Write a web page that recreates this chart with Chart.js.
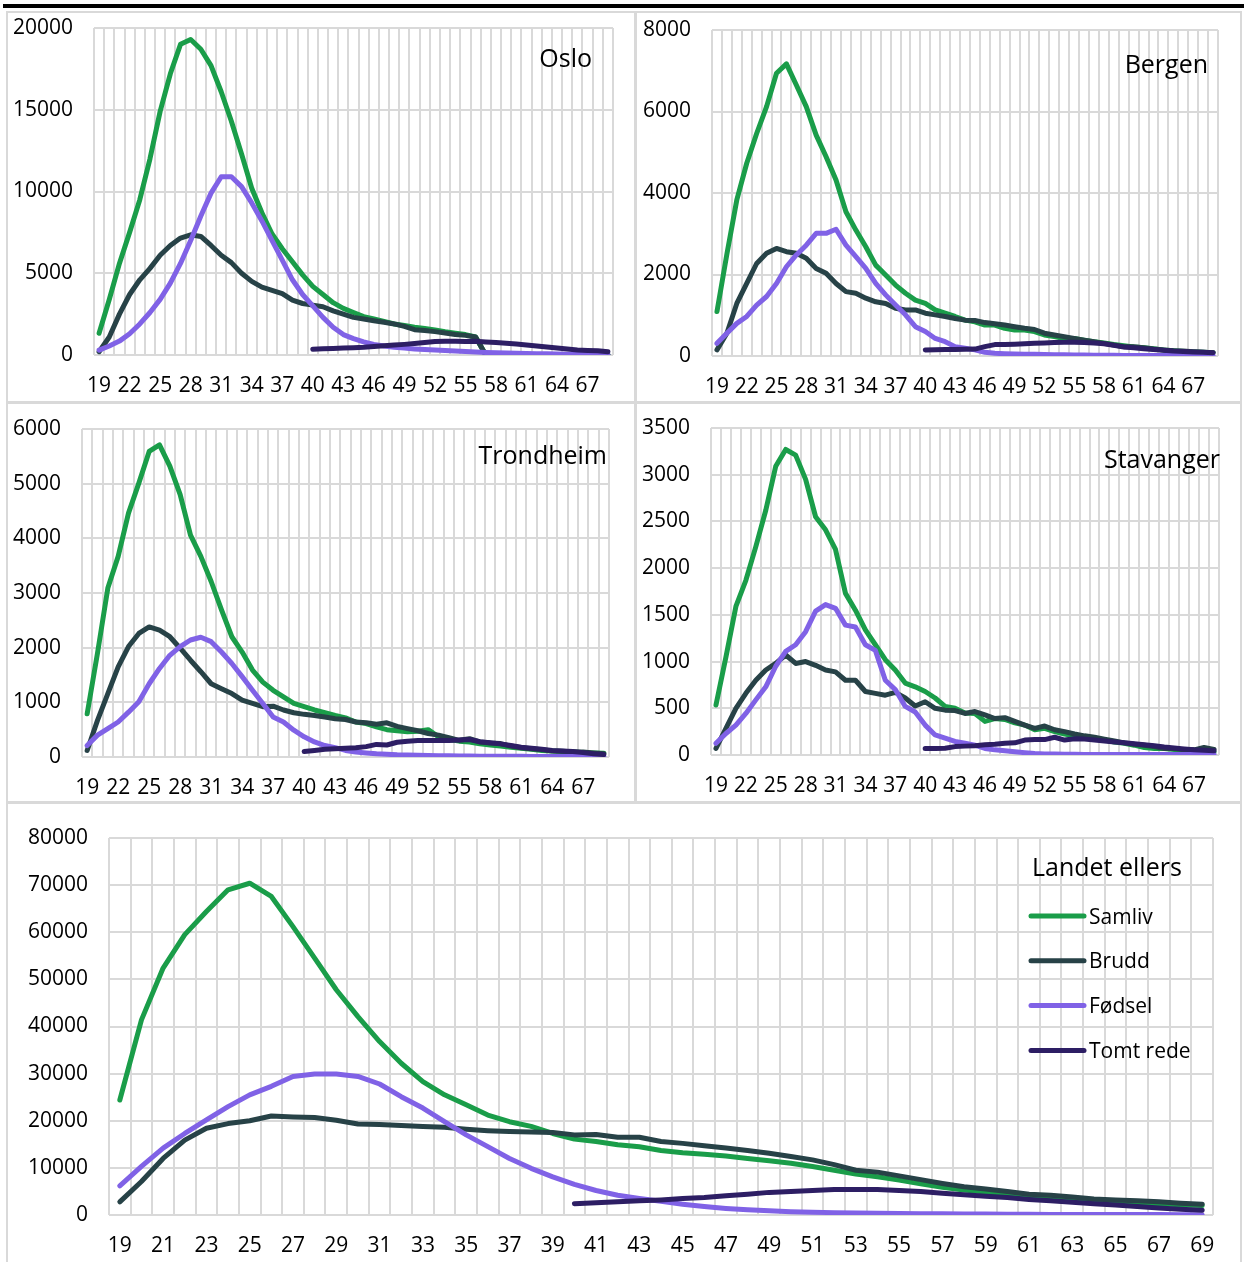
<!DOCTYPE html>
<html>
<head>
<meta charset="utf-8">
<script src="https://cdn.jsdelivr.net/npm/chart.js@4.4.0/dist/chart.umd.min.js"></script>
<style>
  body { margin: 0; background: #fff; }
  #page { position: relative; width: 1244px; height: 1262px; overflow: hidden; background: #fff; }
  canvas { position: absolute; }
  .rule { position: absolute; background: #d9d9d9; }
</style>
</head>
<body>
<div id="page">
  <div style="position:absolute;left:3px;top:4px;width:1241px;height:4px;background:#000"></div>
  <div class="rule" style="left:6px;top:11px;width:1236px;height:2px"></div>
  <div class="rule" style="left:6px;top:401px;width:1236px;height:3px"></div>
  <div class="rule" style="left:6px;top:801px;width:1236px;height:3px"></div>
  <div class="rule" style="left:6px;top:11px;width:2px;height:1251px"></div>
  <div class="rule" style="left:1240px;top:11px;width:2px;height:1251px"></div>
  <div class="rule" style="left:634px;top:11px;width:3px;height:791px"></div>
  <canvas id="oslo" width="626" height="388" style="left:8px;top:13px"></canvas>
  <canvas id="bergen" width="603" height="388" style="left:637px;top:13px"></canvas>
  <canvas id="trondheim" width="626" height="397" style="left:8px;top:404px"></canvas>
  <canvas id="stavanger" width="603" height="397" style="left:637px;top:404px"></canvas>
  <canvas id="landet" width="1232" height="458" style="left:8px;top:804px"></canvas>
</div>
<script>
const ages = ['19','20','21','22','23','24','25','26','27','28','29','30','31','32','33','34','35','36','37','38','39','40','41','42','43','44','45','46','47','48','49','50','51','52','53','54','55','56','57','58','59','60','61','62','63','64','65','66','67','68','69'];
const seriesNames = ['Samliv', 'Brudd', 'Fødsel', 'Tomt rede'];
const seriesColors = ['#1a9d49', '#274247', '#8062e6', '#2d1e64'];

// Oslo
const osloSamliv = [1330,3400,5600,7500,9500,12000,14900,17200,19000,19300,18700,17700,16100,14300,12300,10200,8700,7400,6500,5700,4900,4200,3700,3200,2850,2600,2350,2200,2050,1900,1800,1700,1620,1530,1420,1330,1250,1100,0,0,0,0,0,0,0,0,0,0,0,0,0];
const osloBrudd = [200,1100,2500,3700,4600,5300,6100,6700,7150,7350,7250,6700,6100,5650,5000,4500,4150,3950,3750,3350,3150,3050,2950,2700,2500,2300,2200,2100,2000,1900,1750,1550,1500,1430,1350,1250,1200,1100,0,0,0,0,0,0,0,0,0,0,0,0,0];
const osloFodsel = [300,550,850,1300,1900,2600,3400,4400,5600,7000,8500,9900,10900,10900,10300,9300,8200,7000,5800,4600,3700,3000,2300,1700,1250,1000,800,650,550,480,420,370,330,300,270,240,210,180,160,140,120,100,90,80,70,60,50,45,40,35,30];
const osloTomt = [350,380,400,430,450,470,520,560,610,650,700,760,830,840,840,830,840,800,770,720,670,610,550,490,430,370,310,280,260,200];

// Bergen
const bergenSamliv = [1090,2500,3830,4730,5460,6120,6940,7170,6650,6120,5420,4890,4320,3540,3090,2680,2230,1990,1740,1540,1370,1290,1130,1050,970,880,840,760,760,680,640,640,600,515,475,430,430,390,350,320,280,250,220,200,180,150,130,110,100,90,80];
const bergenBrudd = [150,560,1290,1780,2270,2520,2640,2560,2520,2400,2150,2030,1780,1580,1540,1420,1330,1290,1170,1130,1130,1050,1010,970,920,880,870,820,790,760,720,680,650,560,515,475,430,390,350,310,270,230,230,200,170,150,130,120,105,90,80];
const bergenFodsel = [310,560,800,970,1250,1460,1780,2190,2480,2720,3010,3010,3110,2720,2440,2150,1780,1500,1250,1010,720,600,430,350,230,190,150,90,65,57,50,45,40,35,30,28,25,22,20,18,16,15,14,13,12,11,10,10,10,10,10];
const bergenTomt = [150,155,160,160,165,170,230,280,280,290,300,310,320,330,335,335,330,320,300,260,220,200,180,160,140,120,110,100,90,80];

// Trondheim
const trondheimSamliv = [790,1900,3090,3670,4460,5010,5590,5710,5320,4800,4060,3670,3210,2690,2200,1920,1590,1370,1220,1100,980,920,860,810,760,715,640,610,550,500,480,460,470,500,370,320,290,275,240,220,200,180,160,140,120,110,100,90,80,75,70];
const trondheimBrudd = [120,670,1160,1650,2020,2260,2380,2320,2200,1990,1770,1560,1340,1250,1160,1040,980,920,930,860,810,780,760,730,700,685,640,625,600,625,560,520,480,430,400,355,305,335,275,255,245,200,170,150,135,110,105,90,90,75,60];
const trondheimFodsel = [210,400,520,640,820,1010,1340,1620,1860,2020,2140,2190,2110,1920,1710,1470,1220,980,730,640,490,370,275,210,170,120,90,75,60,50,40,35,30,28,25,22,20,18,16,15,14,13,12,11,10,10,10,10,10,10,10];
const trondheimTomt = [100,120,140,150,160,170,190,230,220,270,290,300,300,300,300,310,320,280,260,240,210,180,160,140,120,110,100,80,60,45];

// Stavanger
const stavangerSamliv = [535,1050,1590,1870,2230,2620,3090,3270,3210,2950,2550,2410,2200,1730,1550,1340,1180,1020,910,770,730,680,610,520,500,450,445,360,390,380,345,320,270,285,250,225,205,190,180,160,140,125,105,80,70,70,60,50,40,40,30];
const stavangerBrudd = [70,285,500,660,800,910,980,1070,980,1000,960,910,890,800,800,680,660,640,670,610,525,570,500,480,475,445,465,430,390,400,360,320,285,310,270,250,225,205,190,170,150,130,115,105,90,70,70,55,55,80,60];
const stavangerFodsel = [125,230,320,445,590,730,950,1110,1180,1320,1540,1610,1570,1390,1370,1180,1120,800,700,520,460,320,215,180,145,125,105,70,55,45,35,25,15,12,10,8,7,6,5,5,5,5,5,5,5,5,5,5,5,5,5];
const stavangerTomt = [70,70,72,90,95,100,110,115,125,130,160,165,165,190,160,175,170,160,150,140,130,120,110,100,85,75,65,55,50,45];

// Landet ellers
const landetSamliv = [24400,41400,52400,59500,64400,69000,70400,67600,61200,54500,47800,42100,36800,32200,28300,25500,23400,21200,19800,18800,17300,16100,15600,14900,14500,13700,13200,12900,12500,12000,11500,11000,10300,9500,8700,8100,7400,6600,5900,5300,4900,4400,4000,3700,3300,3000,2800,2600,2400,2200,2000];
const landetBrudd = [2800,7100,12000,15900,18400,19400,20000,21000,20800,20700,20100,19300,19200,19000,18800,18600,18200,17900,17700,17600,17500,17000,17100,16500,16500,15600,15200,14700,14200,13700,13100,12400,11700,10700,9500,9100,8300,7500,6700,6000,5500,5000,4400,4200,3800,3400,3200,3000,2800,2500,2300];
const landetFodsel = [6200,10300,14200,17300,20200,23000,25500,27300,29400,29900,29900,29400,27800,25100,22700,19800,17000,14500,12000,9900,8100,6500,5200,4200,3500,2900,2300,1800,1400,1100,900,700,600,500,420,360,310,270,240,210,190,170,150,130,120,110,100,90,80,70,60];
const landetTomt = [2400,2600,2800,3000,3200,3500,3700,4100,4400,4800,5000,5200,5400,5400,5400,5200,5000,4600,4300,4000,3700,3300,3000,2700,2400,2100,1800,1500,1200,1000];

// y axis: [min, max, step]
const osloY = [0, 20000, 5000];
const bergenY = [0, 8000, 2000];
const trondheimY = [0, 6000, 1000];
const stavangerY = [0, 3500, 500];
const landetY = [0, 80000, 10000];

// Tomt rede is only counted from age 40
const tomtStart = ages.indexOf('40');

const FONT = 'Open Sans';
const GRID = '#d9d9d9';

const panelText = {
  id: 'panelText',
  afterDraw(chart, args, opts) {
    const ctx = chart.ctx;
    ctx.save();
    ctx.fillStyle = '#000';
    ctx.textBaseline = 'alphabetic';
    ctx.font = '25px "' + FONT + '"';
    ctx.textAlign = opts.align;
    ctx.fillText(opts.text, opts.x, opts.y);
    if (opts.legend) {
      const lg = opts.legend;
      ctx.font = '21px "' + FONT + '"';
      ctx.textAlign = 'left';
      chart.data.datasets.forEach((ds, i) => {
        const y = lg.y + i * lg.gap;
        ctx.strokeStyle = ds.borderColor;
        ctx.lineWidth = 5;
        ctx.lineCap = 'round';
        ctx.beginPath();
        ctx.moveTo(lg.x1, y);
        ctx.lineTo(lg.x2, y);
        ctx.stroke();
        ctx.fillText(ds.label, lg.tx, y + 7.5);
      });
    }
    ctx.restore();
  }
};

function makePanel(id, box, area, yAxis, tickStep, values, text) {
  const datasets = values.map((v, i) => ({
    label: seriesNames[i],
    data: i === 3 ? ages.map((a, k) => (k < tomtStart ? null : v[k - tomtStart])) : v,
    borderColor: seriesColors[i],
    backgroundColor: seriesColors[i],
    order: 4 - i
  }));
  const tickFont = { family: FONT, size: 21 };
  return new Chart(document.getElementById(id), {
    type: 'line',
    data: { labels: ages, datasets: datasets },
    options: {
      responsive: false,
      animation: false,
      devicePixelRatio: 1,
      layout: {
        padding: { left: 0, top: area[1] - box[1], right: box[0] + box[2] - area[2], bottom: 0 }
      },
      elements: {
        point: { radius: 0 },
        line: { tension: 0, borderWidth: 5, borderCapStyle: 'round', borderJoinStyle: 'round' }
      },
      plugins: {
        legend: { display: false },
        tooltip: { enabled: false },
        panelText: text
      },
      scales: {
        x: {
          offset: true,
          grid: { offset: true, color: GRID, lineWidth: 2, drawTicks: false },
          border: { display: false },
          ticks: {
            autoSkip: false, maxRotation: 0, minRotation: 0, padding: 18, color: '#000', font: tickFont,
            callback: function (v, i) { return i % tickStep === 0 ? this.getLabelForValue(v) : ''; }
          },
          afterFit: (s) => { s.height = box[1] + box[3] - area[3]; }
        },
        y: {
          min: yAxis[0], max: yAxis[1],
          grid: { color: GRID, lineWidth: 2, drawTicks: false },
          border: { display: false },
          ticks: { stepSize: yAxis[2], padding: 21, color: '#000', font: tickFont, callback: (v) => String(v) },
          afterFit: (s) => { s.width = area[0] - box[0]; s.paddingTop = 0; s.paddingBottom = 0; }
        }
      }
    },
    plugins: [panelText]
  });
}

// box: [left, top, width, height] and area: [left, top, right, bottom], page pixels
makePanel('oslo', [8, 13, 626, 388], [94, 28, 613, 355], osloY, 3,
  [osloSamliv, osloBrudd, osloFodsel, osloTomt],
  { text: 'Oslo', align: 'right', x: 584, y: 54 });
makePanel('bergen', [637, 13, 603, 388], [712, 30, 1218, 356], bergenY, 3,
  [bergenSamliv, bergenBrudd, bergenFodsel, bergenTomt],
  { text: 'Bergen', align: 'right', x: 571, y: 60 });
makePanel('trondheim', [8, 404, 626, 397], [82, 429, 609, 757], trondheimY, 3,
  [trondheimSamliv, trondheimBrudd, trondheimFodsel, trondheimTomt],
  { text: 'Trondheim', align: 'right', x: 599, y: 60 });
makePanel('stavanger', [637, 404, 603, 397], [711, 428, 1219, 755], stavangerY, 3,
  [stavangerSamliv, stavangerBrudd, stavangerFodsel, stavangerTomt],
  { text: 'Stavanger', align: 'right', x: 583, y: 64 });
makePanel('landet', [8, 804, 1232, 458], [109, 838, 1213, 1215], landetY, 2,
  [landetSamliv, landetBrudd, landetFodsel, landetTomt],
  { text: 'Landet ellers', align: 'left', x: 1024, y: 72,
    legend: { x1: 1023, x2: 1076, tx: 1081, y: 112, gap: 44.8 } });
</script>
</body>
</html>
